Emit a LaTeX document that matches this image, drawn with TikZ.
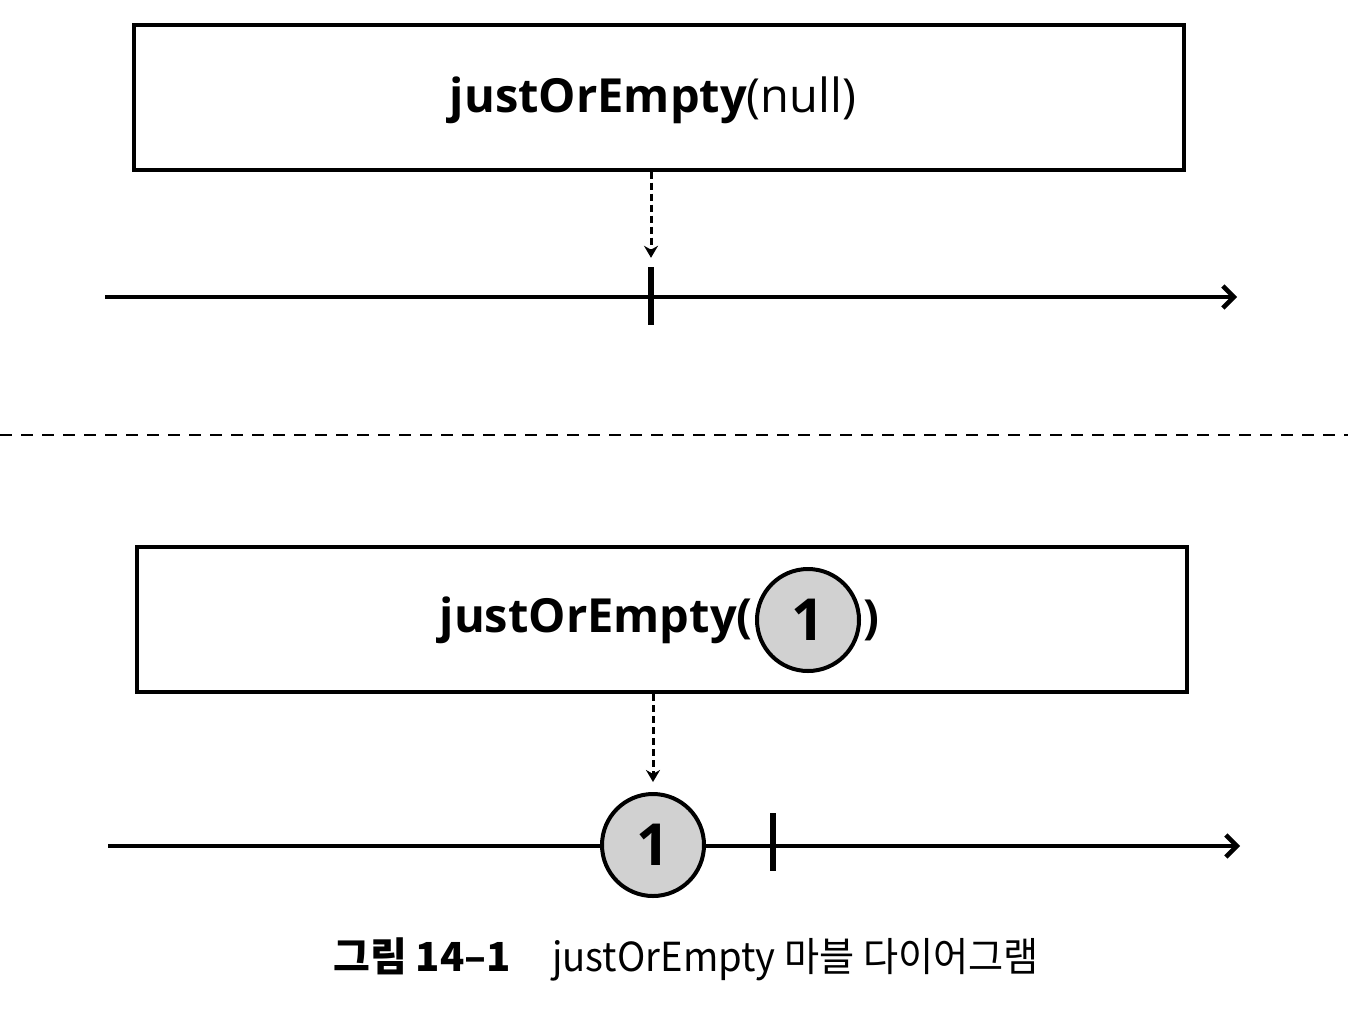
\documentclass[tikz,border=0pt]{standalone}
\usepackage{fontspec}
\setmainfont{Noto Sans CJK KR}
\newfontfamily\boxfont{Open Sans}
\usetikzlibrary{arrows.meta}
\begin{document}
\begin{tikzpicture}[x=1pt,y=-1pt,
  opbox/.style={draw, line width=4pt, minimum width=1050pt, minimum height=145pt, inner sep=0pt},
  optext/.style={inner sep=0pt, font=\boxfont\fontsize{47}{50}\selectfont},
  timeline/.style={line width=4.5pt, -{Straight Barb[length=11pt,width=22pt,line width=4.5pt]}},
  emit/.style={line width=3pt, dash pattern=on 7pt off 4pt, -{Stealth[length=12pt,width=14pt]}},
  endtick/.style={fill=black, draw=none, minimum width=6.5pt, minimum height=58pt, inner sep=0pt},
  marble/.style={circle, draw, line width=4pt, fill=black!18, minimum size=102pt, inner sep=0pt,
    font=\boxfont\bfseries\fontsize{58}{58}\selectfont},
  separator/.style={line width=2.5pt, dash pattern=on 12pt off 9pt},
  caption/.style={inner sep=0pt, anchor=base west, font=\fontsize{40}{44}\selectfont}]
\useasboundingbox (0,0) rectangle (1348,1018);

% ---- top: justOrEmpty(null)
\node[opbox] (box1) at (658.5,97) {};
\node[optext] (lbl1) at (653,100) {\textbf{justOrEmpty}(null)};
\coordinate (l1s) at (105,297);
\coordinate (l1e) at (1237,297);
\draw[timeline] (l1s) -- (l1e);
\node[endtick] (tick1) at (651,296) {};
\draw[emit, shorten >=9pt] (box1.south -| tick1) -- (tick1.north);

% ---- separator
\coordinate (sepL) at (0,435);
\coordinate (sepR) at (1348,435);
\draw[separator] (sepL) -- (sepR);

% ---- bottom: justOrEmpty(1)
\node[opbox] (box2) at (661.5,619.5) {};
\node[marble] (m1) at (808,620) {1};
\node[optext, anchor=east] (lbl2) at ([xshift=-2pt]m1.west) {\textbf{justOrEmpty(}};
\node[optext, anchor=west] (lbl2r) at ([xshift=2pt]m1.east) {\textbf{)}};
\coordinate (l2s) at (108,846);
\coordinate (l2e) at (1240,846);
\draw[timeline] (l2s) -- (l2e);
\node[marble] (m2) at (653,845) {1};
\node[endtick] (tick2) at (773,842) {};
\draw[emit, shorten >=10pt] (box2.south -| m2) -- (m2.north);

% ---- caption
\node[caption] (cap1) at (333,971) {\bfseries 그림 14–1};
\node[caption, xscale=0.955, transform shape] (cap2) at (552,971) {justOrEmpty 마블 다이어그램};
\end{tikzpicture}
\end{document}
